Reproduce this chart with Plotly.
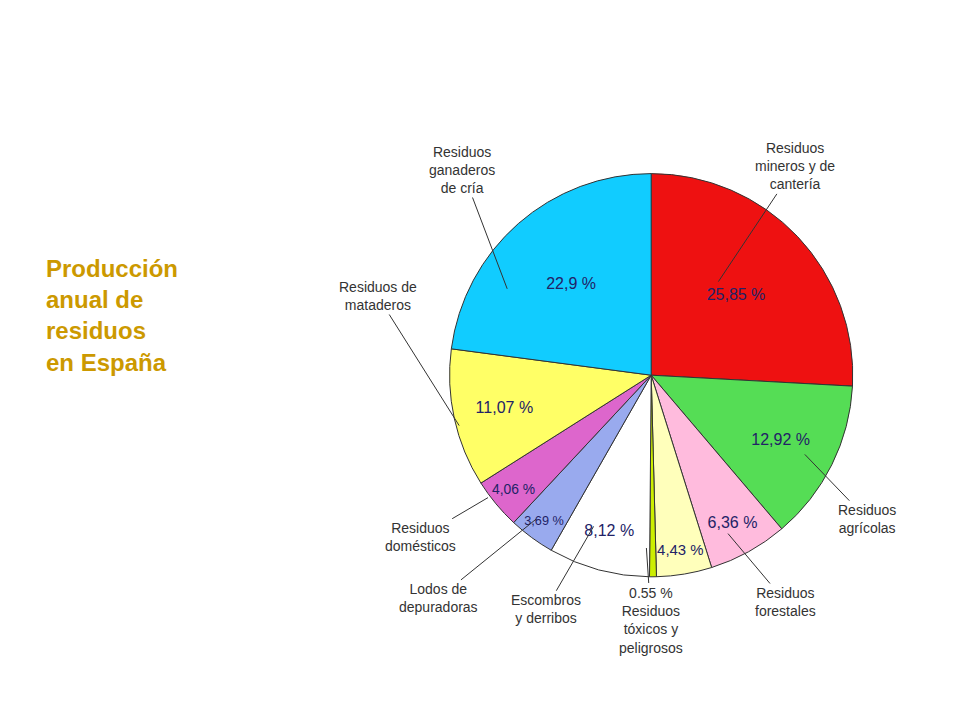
import plotly.graph_objects as go

labels = ["Residuos mineros y de cantería", "Residuos agrícolas", "Residuos forestales",
          "Residuos 4,43", "Residuos tóxicos y peligrosos", "Escombros y derribos",
          "Lodos de depuradoras", "Residuos domésticos", "Residuos de mataderos",
          "Residuos ganaderos de cría"]
values = [25.85, 12.92, 6.36, 4.43, 0.55, 8.12, 3.69, 4.06, 11.07, 22.9]
texts = ["25,85 %", "12,92 %", "6,36 %", "4,43 %", "", "8,12 %", "3,69 %", "4,06 %", "11,07 %", "22,9 %"]
colors = ["#ee1111", "#55dd55", "#ffbbdd", "#ffffbb", "#ccee00", "#ffffff",
          "#99aaee", "#dd66cc", "#ffff66", "#11ccff"]

fig = go.Figure(go.Pie(
    labels=labels, values=values, text=texts, textinfo="text",
    textposition="inside", insidetextorientation="horizontal",
    sort=False, direction="clockwise", rotation=0,
    marker=dict(colors=colors, line=dict(color="#333333", width=1)),
    textfont=dict(family="Liberation Sans", size=16, color="#222266"),
    domain=dict(x=[0.46, 0.88], y=[0.2, 0.78]), showlegend=False,
))

ann = [
    ("Residuos<br>mineros y de<br>cantería", 0.82, 0.78, 0.74, 0.62),
    ("Residuos<br>ganaderos<br>de cría", 0.473, 0.775, 0.52, 0.61),
    ("Residuos de<br>mataderos", 0.385, 0.6, 0.47, 0.42),
    ("Residuos<br>agrícolas", 0.895, 0.29, 0.83, 0.38),
    ("Residuos<br>domésticos", 0.43, 0.265, 0.50, 0.32),
    ("Lodos de<br>depuradoras", 0.448, 0.18, 0.55, 0.29),
    ("Escombros<br>y derribos", 0.56, 0.165, 0.61, 0.28),
    ("0.55 %<br>Residuos<br>tóxicos y<br>peligrosos", 0.67, 0.15, 0.665, 0.25),
    ("Residuos<br>forestales", 0.81, 0.175, 0.75, 0.27),
]
annotations = []
for t, x, y, px, py in ann:
    annotations.append(dict(text=t, x=px, y=py, xref="paper", yref="paper",
                            ax=(x - px) * 960, ay=-(y - py) * 720,
                            showarrow=True, arrowhead=0, arrowwidth=1, arrowcolor="#333",
                            font=dict(family="Liberation Sans", size=14, color="#333")))
annotations.append(dict(text="<b>Producción<br>anual de<br>residuos<br>en España</b>",
                        x=0.037, y=0.66, xref="paper", yref="paper", xanchor="left",
                        yanchor="top", align="left", showarrow=False,
                        font=dict(family="Liberation Sans", size=24, color="#cc9900")))

fig.update_layout(width=960, height=720, paper_bgcolor="white",
                  margin=dict(l=0, r=0, t=0, b=0), annotations=annotations)
fig.write_html("out.html")
